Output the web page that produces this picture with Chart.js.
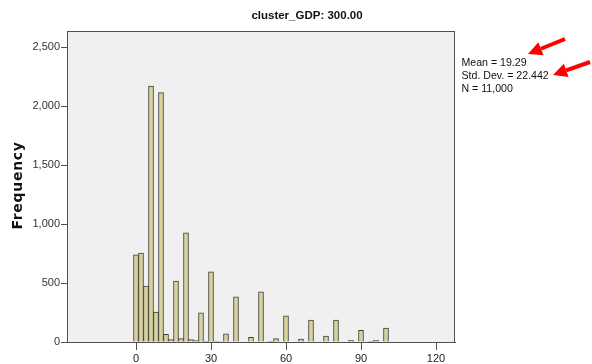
<!DOCTYPE html>
<html>
<head>
<meta charset="utf-8">
<script src="https://cdn.jsdelivr.net/npm/chart.js@4/dist/chart.umd.min.js"></script>
<style>
  html, body { margin: 0; padding: 0; background: #ffffff; }
  #wrap { width: 592px; height: 364px; position: relative; }
</style>
</head>
<body>
<div id="wrap"><canvas id="c" width="592" height="364"></canvas></div>
<script>
// ---- data ----
const chartTitle = "cluster_GDP: 300.00";
const yAxisTitle = "Frequency";
const binCenters = [0,2,4,6,8,10,12,14,16,18,20,22,24,26,28,30,32,34,36,38,40,42,44,46,48,50,52,54,56,58,60,62,64,66,68,70,72,74,76,78,80,82,84,86,88,90,92,94,96,98,100];
const frequencies = [740,755,475,2170,253,2115,65,20,517,28,926,20,12,248,3,596,2,4,70,0,384,0,0,40,0,426,0,3,28,0,223,0,0,24,0,186,0,0,50,0,186,0,0,14,0,98,0,2,14,0,118];
const xTickValues = [0,30,60,90,120];
const yTickValues = [0,500,1000,1500,2000,2500];
const statsLines = ["Mean = 19.29", "Std. Dev. = 22.442", "N = 11,000"];

const points = binCenters.map((x, i) => ({ x: x, y: frequencies[i] }));

const bgPlugin = {
  id: 'bg',
  beforeDraw(chart) {
    const { ctx, chartArea: a } = chart;
    ctx.save();
    ctx.fillStyle = '#ffffff';
    ctx.fillRect(0, 0, chart.width, chart.height);
    ctx.fillStyle = '#f0f0f0';
    ctx.fillRect(a.left, a.top, a.right - a.left, a.bottom - a.top);
    ctx.restore();
  },
  afterDatasetsDraw(chart) {
    const { ctx, chartArea: a } = chart;
    ctx.save();
    ctx.strokeStyle = '#505050';
    ctx.lineWidth = 1;
    ctx.strokeRect(Math.round(a.left) + 0.5, Math.round(a.top) + 0.5,
                   Math.round(a.right - a.left) - 1, Math.round(a.bottom - a.top));
    ctx.restore();
  }
};

function arrow(ctx, x1, y1, x2, y2) {
  const ang = Math.atan2(y2 - y1, x2 - x1);
  const hl = 14, hw = 7;
  const bx = x2 - hl * Math.cos(ang), by = y2 - hl * Math.sin(ang);
  ctx.beginPath();
  ctx.moveTo(x1, y1);
  ctx.lineTo(bx, by);
  ctx.stroke();
  ctx.beginPath();
  ctx.moveTo(x2, y2);
  ctx.lineTo(bx + hw * Math.sin(ang), by - hw * Math.cos(ang));
  ctx.lineTo(bx - hw * Math.sin(ang), by + hw * Math.cos(ang));
  ctx.closePath();
  ctx.fill();
}

const textPlugin = {
  id: 'texts',
  afterDraw(chart) {
    const { ctx, chartArea: a } = chart;
    ctx.save();
    // title
    ctx.fillStyle = '#111111';
    ctx.font = 'bold 11.5px "Liberation Sans", Arial, sans-serif';
    ctx.textAlign = 'center';
    ctx.textBaseline = 'middle';
    ctx.fillText(chartTitle, 307, 15.5);
    // y axis title
    ctx.save();
    ctx.translate(18, (a.top + a.bottom) / 2 - 1);
    ctx.rotate(-Math.PI / 2);
    ctx.font = 'bold 14px "DejaVu Sans", sans-serif';
    try { ctx.letterSpacing = '0.7px'; } catch (e) {}
    ctx.fillText(yAxisTitle, 0, 0);
    ctx.restore();
    // stats
    ctx.font = '10.6px "Liberation Sans", Arial, sans-serif';
    ctx.textAlign = 'left';
    ctx.fillStyle = '#111111';
    statsLines.forEach((t, i) => ctx.fillText(t, 461.5, 63 + i * 13));
    // red arrows
    ctx.strokeStyle = '#ff0000';
    ctx.fillStyle = '#ff0000';
    ctx.lineWidth = 4;
    ctx.lineCap = 'butt';
    arrow(ctx, 565, 39, 528, 54);
    arrow(ctx, 590, 62, 553, 75);
    ctx.restore();
  }
};

new Chart(document.getElementById('c'), {
  type: 'bar',
  data: {
    datasets: [{
      data: points,
      backgroundColor: '#d7d19d',
      borderColor: '#3f3f36',
      borderWidth: 1,
      borderSkipped: 'start',
      barPercentage: 1,
      categoryPercentage: 1
    }]
  },
  options: {
    responsive: false,
    animation: false,
    devicePixelRatio: 1,
    layout: { padding: { left: 0, top: 31, right: 137, bottom: 0 } },
    plugins: { legend: { display: false }, tooltip: { enabled: false }, title: { display: false } },
    scales: {
      x: {
        type: 'linear',
        min: -27.6,
        max: 127.6,
        offset: false,
        afterBuildTicks(scale) { scale.ticks = xTickValues.map(v => ({ value: v })); },
        afterFit(scale) { scale.height = 22; },
        grid: { offset: false, drawOnChartArea: false, drawTicks: true, tickLength: 8, color: '#505050' },
        border: { display: true, color: '#505050' },
        ticks: {
          autoSkip: false, maxRotation: 0, padding: 2, color: '#222222',
          font: { family: '"Liberation Sans", Arial, sans-serif', size: 11 },
          callback: v => String(v)
        }
      },
      y: {
        min: 0,
        max: 2638,
        afterBuildTicks(scale) { scale.ticks = yTickValues.map(v => ({ value: v })); },
        afterFit(scale) { scale.width = 67; },
        grid: { drawOnChartArea: false, drawTicks: true, tickLength: 6, color: '#505050' },
        border: { display: true, color: '#505050' },
        ticks: {
          padding: 1, color: '#333333',
          font: { family: '"Liberation Sans", Arial, sans-serif', size: 11 },
          callback: v => v.toLocaleString('en-US')
        }
      }
    }
  },
  plugins: [bgPlugin, textPlugin]
});
</script>
</body>
</html>
